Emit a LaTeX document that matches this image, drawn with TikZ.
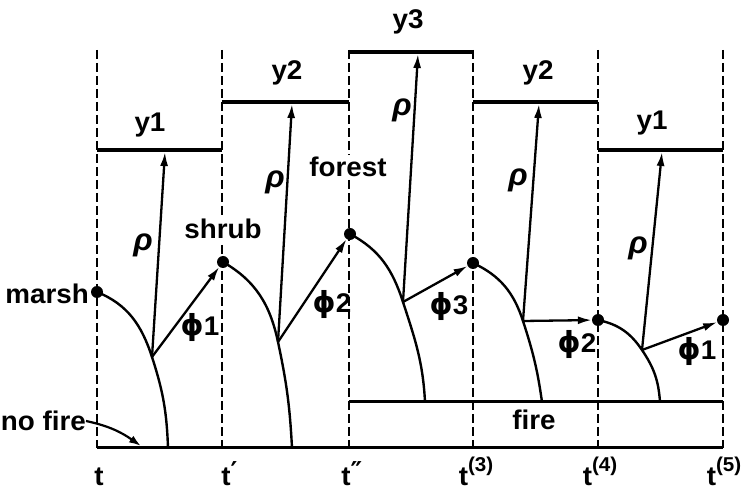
\documentclass[tikz,border=0pt]{standalone}
\usepackage{fontspec}
\setmainfont{Liberation Sans}[FakeStretch=1.03]
\newfontfamily\dvs{DejaVu Sans}
\usetikzlibrary{arrows.meta}
\newcommand{\phig}{{\dvs\bfseries\fontsize{29}{30}\selectfont ϕ}}
\newcommand{\rhog}{{\fontsize{31}{30}\selectfont\textit{ρ}}}
\begin{document}
\begin{tikzpicture}[x=1pt,y=1pt,
  lbl/.style={inner sep=0pt, font=\fontsize{27}{30}\selectfont\bfseries},
  wlbl/.style={lbl, fill=white, inner sep=2pt},
  sup/.style={lbl, anchor=base},
  dot/.style={circle, fill=black, inner sep=0pt, minimum size=12pt},
  vdash/.style={line width=2.7pt, dash pattern=on 9pt off 4pt},
  level/.style={line width=3.4pt},
  base/.style={line width=3pt},
  curve/.style={line width=2.4pt},
  arr/.style={line width=2.3pt, -{Latex[length=14pt,width=8pt]}},
]
\useasboundingbox (0,0) rectangle (747,490);
% time lines
\foreach \n/\x in {a/97,b/222,c/349,d/473,e/598,f/723}{
  \coordinate (top\n) at (\x,440);
  \coordinate (bot\n) at (\x,42);
  \draw[vdash] (top\n) -- (bot\n);
}
% levels
\coordinate (l1a) at (97,340);  \coordinate (l1b) at (222,340);
\coordinate (l2a) at (222,388); \coordinate (l2b) at (349,388);
\coordinate (l3a) at (349,438); \coordinate (l3b) at (473,438);
\coordinate (l4a) at (473,388); \coordinate (l4b) at (598,388);
\coordinate (l5a) at (598,340); \coordinate (l5b) at (723,340);
\draw[level] (l1a) -- (l1b);
\draw[level] (l2a) -- (l2b);
\draw[level] (l3a) -- (l3b);
\draw[level] (l4a) -- (l4b);
\draw[level] (l5a) -- (l5b);
% base lines
\draw[base] (bota) -- (botf);
\coordinate (fa) at (349,88); \coordinate (fb) at (723,88);
\draw[base] (fa) -- (fb);
% dots
\node[dot] (d1) at (97,198) {};
\node[dot] (d2) at (223,228) {};
\node[dot] (d3) at (350,256) {};
\node[dot] (d4) at (473,227) {};
\node[dot] (d5) at (598,170) {};
\node[dot] (d6) at (723,170) {};
% branch and end points
\coordinate (b1) at (152,133); \coordinate (e1) at (168,42);
\coordinate (b2) at (278,148); \coordinate (e2) at (292,42);
\coordinate (b3) at (403,188); \coordinate (e3) at (425,88);
\coordinate (b4) at (523,169); \coordinate (e4) at (542,88);
\coordinate (b5) at (642,140); \coordinate (e5) at (660,88);
% curves
\draw[curve] (d1.center) to[out=-22,in=108] (b1) to[out=-72,in=92] (e1);
\draw[curve] (d2.center) to[out=-30,in=102] (b2) to[out=-78,in=93] (e2);
\draw[curve] (d3.center) to[out=-28,in=108] (b3) to[out=-72,in=93] (e3);
\draw[curve] (d4.center) to[out=-25,in=108] (b4) to[out=-72,in=98] (e4);
\draw[curve] (d5.center) to[out=-12,in=124] (b5) to[out=-56,in=94] (e5);
% rho arrows
\coordinate (r1) at (165,338);
\coordinate (r2) at (292,386);
\coordinate (r3) at (418,436);
\coordinate (r4) at (539,386);
\coordinate (r5) at (662,338);
\draw[arr] (b1) -- (r1);
\draw[arr] (b2) -- (r2);
\draw[arr] (b3) -- (r3);
\draw[arr] (b4) -- (r4);
\draw[arr] (b5) -- (r5);
% phi arrows
\draw[arr] (b1) -- (d2);
\draw[arr] (b2) -- (d3);
\draw[arr] (b3) -- (d4);
\draw[arr] (b4) -- (d5);
\draw[arr] (b5) -- (d6);
% level labels
\node[lbl] (y1a) at (150,365) {y1};
\node[lbl] (y2a) at (287,417) {y2};
\node[lbl] (y3) at (408,468) {y3};
\node[lbl] (y2b) at (538,417) {y2};
\node[lbl] (y1b) at (652,367) {y1};
% rho labels
\node[lbl] (rho1) at (143,245) {\rhog};
\node[lbl] (rho2) at (275,308) {\rhog};
\node[lbl] (rho3) at (402,380) {\rhog};
\node[lbl] (rho4) at (518,310) {\rhog};
\node[lbl] (rho5) at (638,242) {\rhog};
% phi labels
\node[lbl] (phi1) at (200,162) {\phig1};
\node[lbl] (phi2) at (332,185) {\phig2};
\node[lbl] (phi3) at (449,183) {\phig3};
\node[lbl] (phi4) at (577,145) {\phig2};
\node[lbl] (phi5) at (697,138) {\phig1};
% state labels
\node[lbl, anchor=east] (marsh) at (89,196) {marsh};
\node[wlbl] (shrub) at (223,261) {shrub};
\node[wlbl] (forest) at (348,323) {forest};
\node[lbl] (fire) at (534,70) {fire};
\node[lbl, anchor=east] (nofire) at (86,69) {no fire};
\coordinate (nft) at (141,44);
\draw[line width=2.2pt, -{Latex[length=12pt,width=8pt]}] (nofire.east) to[out=-12,in=145] (nft);
% time labels
\node[sup] (ta) at (99,5) {t};
\node[sup] (tb) at (226,5) {t\rlap{\raisebox{5pt}{\dvs\bfseries\fontsize{26}{26}\selectfont ′}}};
\node[sup] (tc) at (346,5) {t\rlap{\raisebox{5pt}{\dvs\bfseries\fontsize{26}{26}\selectfont ″}}};
\node[sup] (td) at (476,5) {t\raisebox{14pt}{\fontsize{20}{20}\selectfont(3)}};
\node[sup] (te) at (600,5) {t\raisebox{14pt}{\fontsize{20}{20}\selectfont(4)}};
\node[sup] (tf) at (724,5) {t\raisebox{14pt}{\fontsize{20}{20}\selectfont(5)}};
\end{tikzpicture}
\end{document}
